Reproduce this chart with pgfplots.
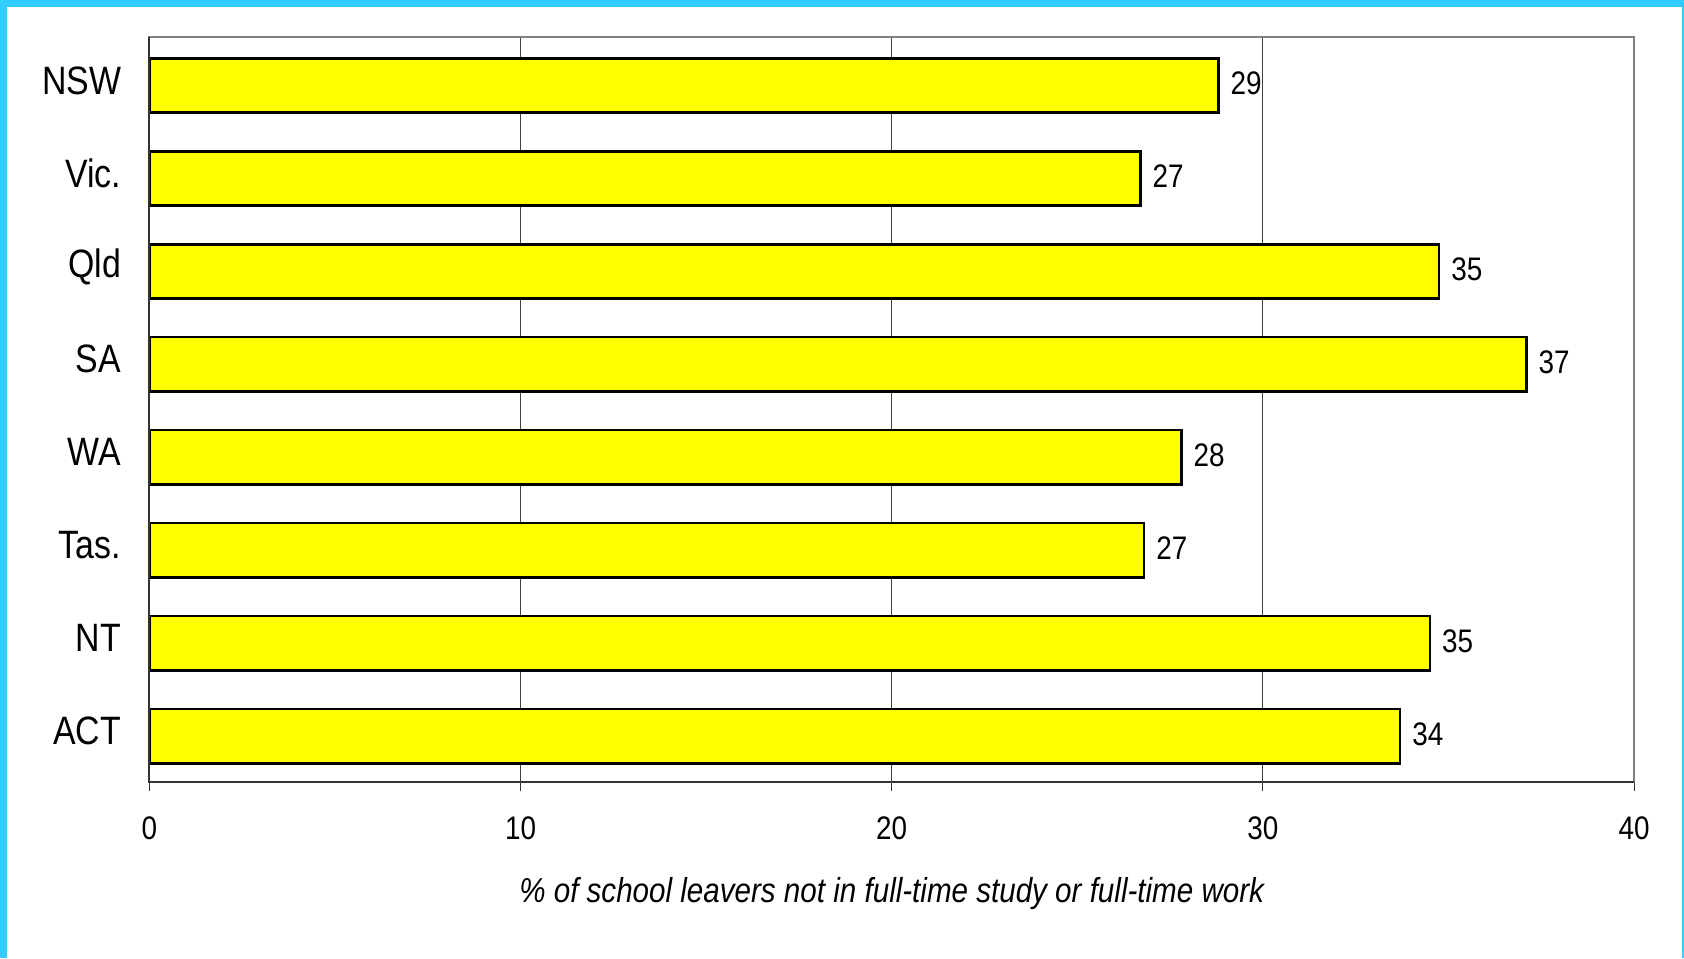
\documentclass[border=0pt]{standalone}
\usepackage{pgfplots}
\pgfplotsset{compat=1.18}
\usepackage{fontspec}
\setmainfont{Liberation Sans}[FakeStretch=0.855]
\definecolor{frame}{HTML}{33CCFF}
\definecolor{bary}{HTML}{FFFF00}

\begin{document}
\begin{tikzpicture}
% page: 1684 x 958 px at 0.5pt per px, axis box lower left at origin
\useasboundingbox (-74.7pt,-88.15pt) rectangle (767.3pt,390.85pt);
\fill[white] (-74.7pt,-88.15pt) rectangle (767.3pt,390.85pt);
\fill[frame] (-74.7pt,387.35pt) rectangle (767.3pt,390.85pt);
\fill[frame] (-74.7pt,-88.15pt) rectangle (-71.2pt,390.85pt);
\fill[frame] (766.5pt,-88.15pt) rectangle (767.3pt,390.85pt);

\begin{axis}[
    at={(0,0)}, anchor=south west,
    scale only axis,
    width=742.3pt, height=372.5pt,
    xbar,
    bar width=0.585,
    xmin=0, xmax=40,
    ymin=-0.525, ymax=7.49,
    y dir=reverse,
    xtick={0,10,20,30,40},
    xtick pos=bottom,
    tick align=outside,
    major tick length=4.5pt,
    x tick style={black!80, line width=0.5pt},
    ytick={0,...,7},
    yticklabels={NSW, Vic., Qld\hspace{-1.5pt}, SA\hspace{4pt}, WA\hspace{4pt}, Tas.\hspace{4.5pt}, NT\hspace{4pt}, ACT},
    y tick style={draw=none},
    y tick label style={font=\fontsize{19.8}{22}\selectfont, anchor=east, inner sep=0pt, xshift=-9.5pt, yshift=2.5pt},
    x tick label style={font=\fontsize{16.3}{18}\selectfont, inner sep=0pt, yshift=-13pt},
    /pgf/number format/assume math mode=true,
    xmajorgrids,
    grid style={black!75, line width=0.5pt},
    axis line style={draw=black!50, line width=1pt},
    xlabel={\itshape\% of school leavers not in full-time study or full-time work},
    xlabel style={font=\fontsize{17.3}{19}\selectfont, inner sep=0pt, yshift=-18.5pt},
    point meta=explicit symbolic,
    nodes near coords,
    every node near coord/.append style={font=\fontsize{16.3}{18}\selectfont, anchor=west, inner sep=0pt, xshift=5.5pt, yshift=1pt},
    after end axis/.code={
        \draw[black!80, line width=1pt] (rel axis cs:0,1) -- (rel axis cs:0,0) -- (rel axis cs:1,0);
    },
]
\addplot[fill=bary, draw=black, line width=1.3pt] coordinates {
    (28.8,0) [29]
    (26.7,1) [27]
    (34.75,2) [35]
    (37.1,3) [37]
    (27.8,4) [28]
    (26.8,5) [27]
    (34.5,6) [35]
    (33.7,7) [34]
};
\end{axis}
\end{tikzpicture}
\end{document}
